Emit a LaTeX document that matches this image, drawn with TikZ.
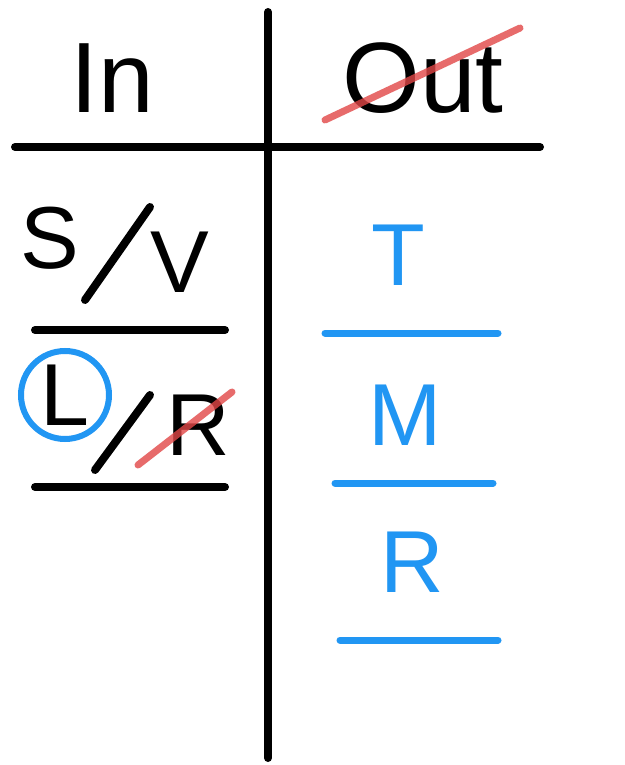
\documentclass[tikz,border=0pt]{standalone}
\usepackage{fontspec}
\setmainfont{Liberation Sans}
\definecolor{pen}{RGB}{33,150,243}
\definecolor{redpen}{RGB}{225,70,70}
\begin{document}
\begin{tikzpicture}[x=1pt,y=-1pt,
  ink/.style={line width=8pt,line cap=round},
  blueline/.style={pen,line width=7pt,line cap=round},
  strike/.style={redpen,opacity=0.8,line width=7pt,line cap=round},
  big/.style={font=\fontsize{100}{100}\selectfont},
  mid/.style={font=\fontsize{88}{88}\selectfont}]
\useasboundingbox (0,0) rectangle (624,765);
\fill[white] (0,0) rectangle (624,765);
\coordinate (vt) at (268,12); \coordinate (vb) at (268,758);
\draw[ink] (vt) -- (vb);
\coordinate (hl) at (15,147); \coordinate (hr) at (540,147);
\draw[ink] (hl) -- (hr);
\node[big] (in) at (112,78) {In};
\node[big] (out) at (423,78) {Out};
\coordinate (o1) at (325,120); \coordinate (o2) at (520,28);
\draw[strike] (o1) -- (o2);
\node[mid] (s) at (50,238) {S};
\coordinate (s1) at (85,300); \coordinate (s2) at (150,207);
\draw[ink] (s1) -- (s2);
\node[mid] (v) at (180,262) {V};
\coordinate (l1a) at (35,330); \coordinate (l1b) at (225,330);
\draw[ink] (l1a) -- (l1b);
\node[mid] (l) at (65,395) {L};
\draw[pen,line width=6pt] (l) circle[radius=44];
\coordinate (s3) at (95,470); \coordinate (s4) at (150,395);
\draw[ink] (s3) -- (s4);
\node[mid] (r1) at (198,425) {R};
\coordinate (r1a) at (138,465); \coordinate (r1b) at (232,392);
\draw[strike] (r1a) -- (r1b);
\coordinate (l2a) at (35,487); \coordinate (l2b) at (225,487);
\draw[ink] (l2a) -- (l2b);
\node[mid,pen] (t) at (398,255) {T};
\coordinate (b1a) at (325,333); \coordinate (b1b) at (498,333);
\draw[blueline] (b1a) -- (b1b);
\node[mid,pen] (m) at (405,415) {M};
\coordinate (b2a) at (335,483); \coordinate (b2b) at (493,483);
\draw[blueline] (b2a) -- (b2b);
\node[mid,pen] (r2) at (412,562) {R};
\coordinate (b3a) at (340,640); \coordinate (b3b) at (498,640);
\draw[blueline] (b3a) -- (b3b);
\end{tikzpicture}
\end{document}
